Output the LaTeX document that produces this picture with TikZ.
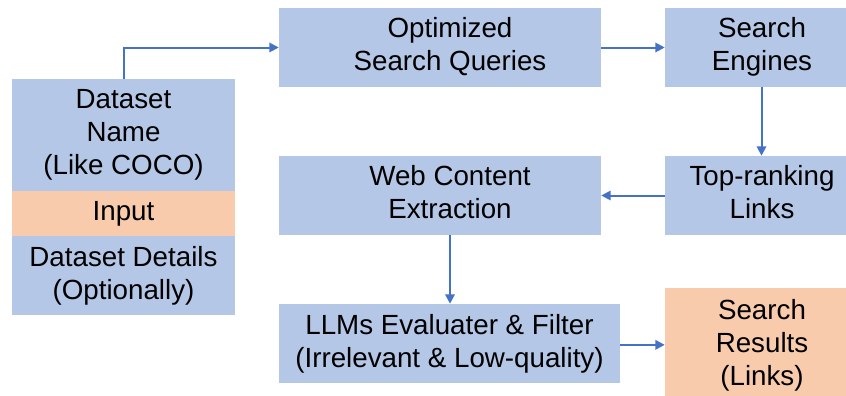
\documentclass[tikz,border=0pt]{standalone}
\usepackage{fontspec}
\setmainfont{Liberation Sans}
\usetikzlibrary{arrows.meta}

\definecolor{boxblue}{HTML}{B4C7E7}
\definecolor{boxorange}{HTML}{F8CBAD}
\definecolor{flowblue}{HTML}{4472C4}

\tikzset{
  box/.style={fill=boxblue, inner sep=0pt, align=center,
    font=\fontsize{20.8}{24.6}\selectfont},
  inbox/.style={box, fill=boxorange},
  flow/.style={draw=flowblue, line width=1.5pt, -{Triangle[length=7pt,width=7pt]}},
}
% text block shifted inside its box (left pad, right pad)
\newcommand{\padlines}[3]{\hspace*{#1}\begin{tabular}{@{}c@{}}#3\end{tabular}\hspace*{#2}}

\begin{document}
\begin{tikzpicture}[x=0.75pt, y=-0.75pt]
        \path[use as bounding box] (0,0) rectangle (846,396);
        \clip (0,0) rectangle (846,396);

        % Input
        \node[box, minimum width=167.25pt, minimum height=84pt] (dsname) at (123.5,135) {Dataset\\Name\\(Like COCO)};
        \node[inbox, minimum width=167.25pt, minimum height=33.75pt] (input) at (123.5,213.5) {Input};
        \node[box, minimum width=167.25pt, minimum height=59.25pt] (details) at (123.5,275.5) {Dataset Details\\(Optionally)};

        % Search
        \node[box, minimum width=241.5pt, minimum height=59.25pt] (queries) at (440,47.5) {\padlines{15pt}{0pt}{Optimized\\Search Queries}};
        \node[box, minimum width=135.75pt, minimum height=59.25pt] (engines) at (755.5,47.5) {\padlines{9.75pt}{0pt}{Search\\Engines}};
        \node[box, minimum width=135.75pt, minimum height=59.25pt] (links) at (755.5,195.5) {\padlines{9.75pt}{0pt}{Top-ranking\\Links}};

        % Extraction and filtering
        \node[box, minimum width=241.5pt, minimum height=59.25pt] (web) at (440,195.5) {\padlines{15pt}{0pt}{Web Content\\Extraction}};
        \node[box, minimum width=255.75pt, minimum height=59.25pt] (llm) at (449.5,343.5) {LLMs Evaluater \& Filter\\(Irrelevant \& Low-quality)};

        % Output
        \node[inbox, minimum width=135.75pt, minimum height=87pt] (results) at (755.5,346) {\padlines{9.75pt}{0pt}{Search\\Results\\(Links)}};

        % Connections
        \draw[flow] (dsname.north) |- (queries.west);
        \draw[flow] (queries.east) -- (engines.west);
        \draw[flow] ([xshift=4.5pt]engines.south) -- ([xshift=4.5pt]links.north);
        \draw[flow] (links.west) -- (web.east);
        \draw[flow] ([xshift=7.5pt]web.south) -- ([xshift=7.5pt]web.south |- llm.north);
        \draw[flow] ([yshift=-1pt]llm.east) -- ([yshift=-1pt]llm.east -| results.west);
\end{tikzpicture}
\end{document}
